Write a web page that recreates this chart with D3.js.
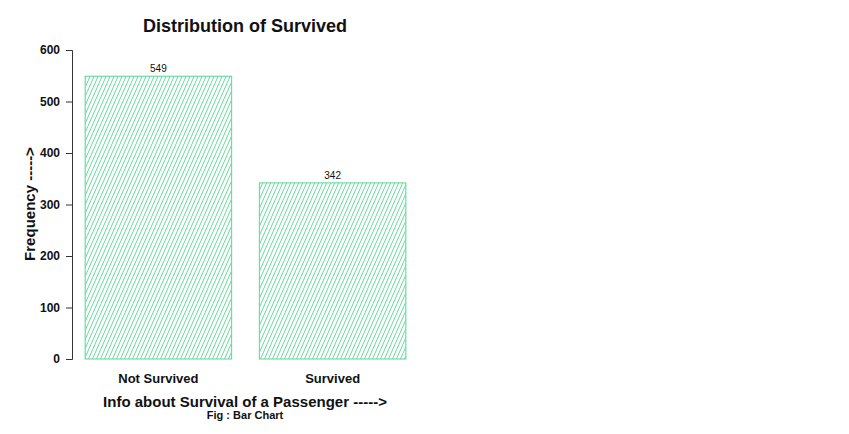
<!DOCTYPE html>
<html><head><meta charset="utf-8">
<script src="https://cdn.jsdelivr.net/npm/d3@7"></script>
<style>body{margin:0;background:#fff}svg{display:block}text{font-family:"Liberation Sans",Arial,sans-serif;fill:#111}</style>
</head><body><div id="c"></div>
<script>
const categories = ["Not Survived", "Survived"];
const counts = [549, 342];
const yTicks = [0, 100, 200, 300, 400, 500, 600];

const W = 849, H = 434;
const svg = d3.select("#c").append("svg").attr("width", W).attr("height", H);
const defs = svg.append("defs");
const pw = 4, ph = 9;
const pat = defs.append("pattern").attr("id", "hatch").attr("patternUnits", "userSpaceOnUse")
  .attr("width", pw).attr("height", ph);
[[0, ph, pw, 0], [-pw, ph, 0, 0], [pw, ph, 2 * pw, 0]].forEach(s =>
  pat.append("line").attr("x1", s[0]).attr("y1", s[1]).attr("x2", s[2]).attr("y2", s[3])
    .attr("stroke", "#66da9f").attr("stroke-width", 1));

const y = d3.scaleLinear().domain([0, 600]).range([359, 50]);
const x = d3.scaleBand().domain(categories).range([73, 418]).paddingInner(0.16).paddingOuter(0.07);

const g = svg.append("g");
g.selectAll("rect.bar").data(categories).join("rect").attr("class", "bar")
  .attr("x", d => x(d)).attr("width", x.bandwidth())
  .attr("y", (d, i) => y(counts[i])).attr("height", (d, i) => y(0) - y(counts[i]))
  .attr("fill", "url(#hatch)").attr("stroke", "#6fdca6").attr("stroke-width", 1.2);

g.selectAll("text.val").data(categories).join("text").attr("class", "val")
  .attr("x", d => x(d) + x.bandwidth() / 2).attr("y", (d, i) => y(counts[i]) - 4)
  .attr("text-anchor", "middle").attr("font-size", 10).text((d, i) => counts[i]);

const ax = svg.append("g").attr("transform", "translate(72,0)")
  .call(d3.axisLeft(y).tickValues(yTicks).tickSize(6).tickPadding(6));
ax.select(".domain").attr("stroke", "#333");
ax.selectAll(".tick line").attr("stroke", "#333");
ax.selectAll(".tick text").attr("font-size", 12).attr("font-weight", "bold")
  .attr("fill", "#173030").style("font-family", '"Liberation Sans",Arial,sans-serif');

svg.selectAll("text.cat").data(categories).join("text").attr("class", "cat")
  .attr("x", d => x(d) + x.bandwidth() / 2).attr("y", 383)
  .attr("text-anchor", "middle").attr("font-size", 13).attr("font-weight", "bold").text(d => d);

svg.append("text").attr("x", 245).attr("y", 32).attr("text-anchor", "middle")
  .attr("font-size", 18).attr("font-weight", "bold").text("Distribution of Survived");
svg.append("text").attr("x", 245).attr("y", 407).attr("text-anchor", "middle")
  .attr("font-size", 15).attr("font-weight", "bold").text("Info about Survival of a Passenger ----->");
svg.append("text").attr("x", 245).attr("y", 419).attr("text-anchor", "middle")
  .attr("font-size", 11).attr("font-weight", "bold").text("Fig : Bar Chart");
svg.append("text").attr("transform", "translate(35,204) rotate(-90)").attr("text-anchor", "middle")
  .attr("font-size", 15).attr("font-weight", "bold").text("Frequency ----->");
</script></body></html>
